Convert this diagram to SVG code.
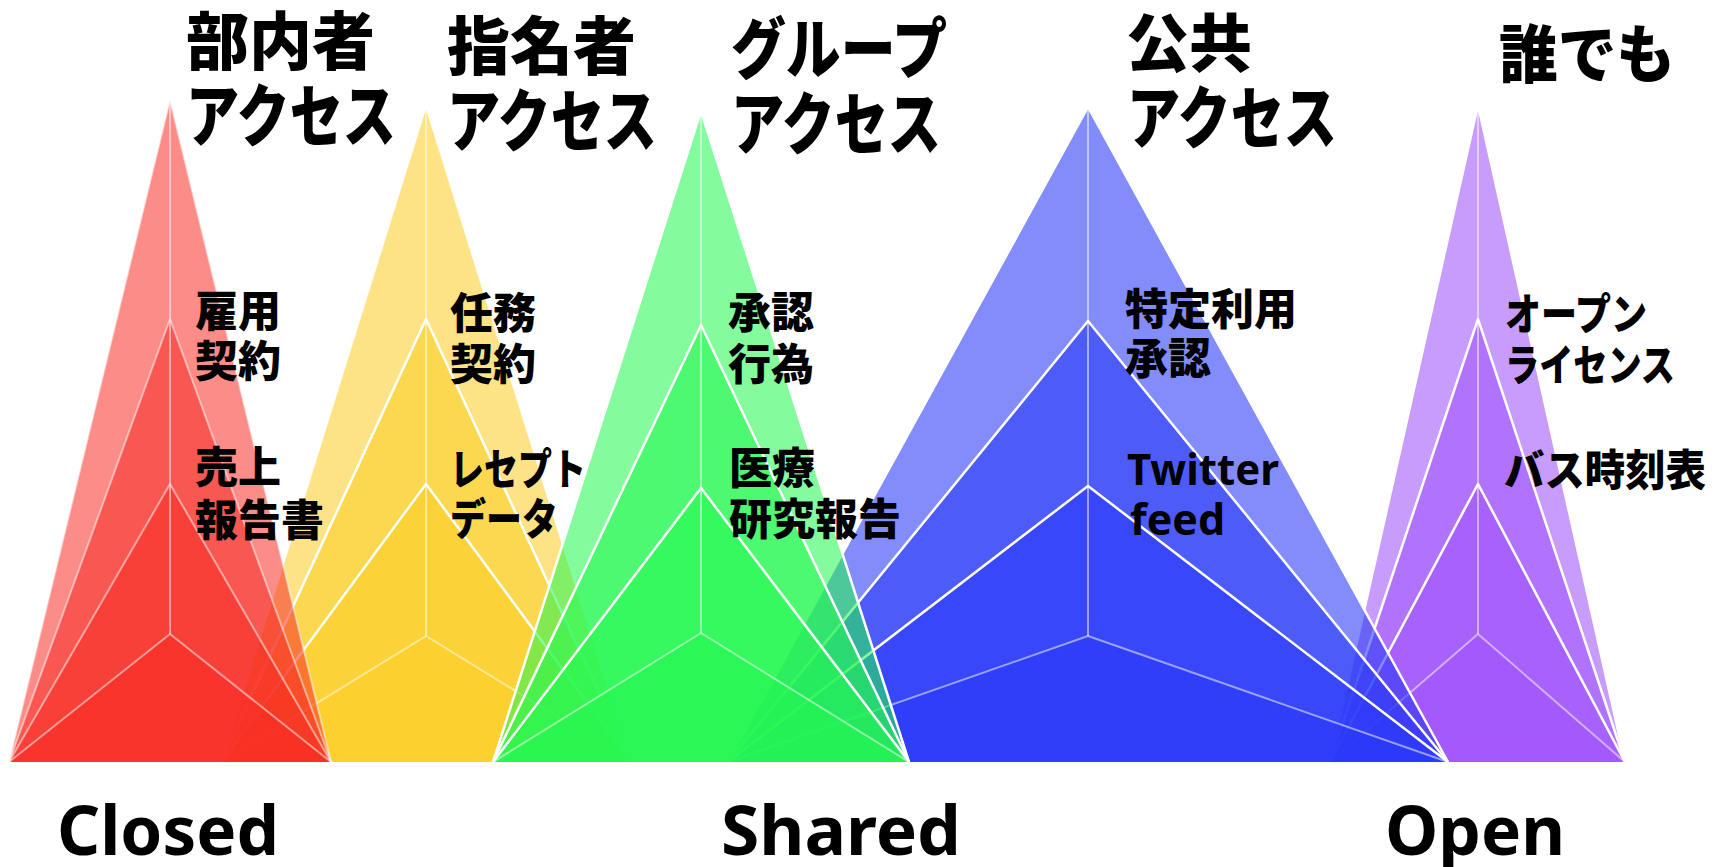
<svg xmlns="http://www.w3.org/2000/svg" width="1723" height="867" viewBox="0 0 1723 867">
  <style>
    .jp { font-family: "Noto Sans CJK JP", "Noto Sans CJK SC", sans-serif; font-weight: 900; fill: #000; }
    .en { font-family: "Noto Sans", "Open Sans", sans-serif; font-weight: 700; fill: #000; }
    .ttl { font-size: 63px; }
    .lbl { font-size: 43px; }
    .big { font-size: 68px; }
    .mid { font-size: 43px; }
    .edge { fill: none; stroke: #fff; stroke-width: 2.5; stroke-linejoin: round; }
    .soft { fill: none; stroke: #fff; stroke-opacity: 0.5; stroke-width: 2; stroke-linejoin: round; }
    .red polygon { fill: #F82A24; fill-opacity: 0.54; }
    .yel polygon { fill: #FCCE28; fill-opacity: 0.57; }
    .grn polygon { fill: #24F850; fill-opacity: 0.56; }
    .blu polygon { fill: #2838F8; fill-opacity: 0.58; }
    .pur polygon { fill: #A055FC; fill-opacity: 0.58; }
  </style>

  <!-- pyramids: four nested tiers sharing one base, back-to-front -->
  <g id="pyramid-named" class="yel">
    <polygon points="426,105 221,762 631,762"/>
    <polygon points="426,319 221,762 631,762"/>
    <polygon points="426,484 221,762 631,762"/>
    <polygon points="426,636 221,762 631,762"/>
    <polyline class="edge" points="221,762 426,105 631,762"/>
    <polyline class="edge" points="221,762 426,319 631,762"/>
    <polyline class="edge" points="221,762 426,484 631,762"/>
    <polyline class="soft" points="221,762 426,636 631,762"/>
    <line class="soft" x1="426" y1="105" x2="426" y2="636"/>
  </g>

  <g id="pyramid-anyone" class="pur">
    <polygon points="1478,105 1330,762 1625,762"/>
    <polygon points="1478,319 1330,762 1625,762"/>
    <polygon points="1478,484 1330,762 1625,762"/>
    <polygon points="1478,634 1330,762 1625,762"/>
    <polyline class="edge" points="1330,762 1478,105 1625,762"/>
    <polyline class="edge" points="1330,762 1478,319 1625,762"/>
    <polyline class="edge" points="1330,762 1478,484 1625,762"/>
    <polyline class="soft" points="1330,762 1478,634 1625,762"/>
    <line class="soft" x1="1478" y1="105" x2="1478" y2="634"/>
  </g>

  <g id="pyramid-internal" class="red">
    <polygon points="170,100 9,762 331,762"/>
    <polygon points="170,319 9,762 331,762"/>
    <polygon points="170,484 9,762 331,762"/>
    <polygon points="170,634 9,762 331,762"/>
    <polyline class="soft" points="9,762 170,100 331,762"/>
    <polyline class="soft" points="9,762 170,319 331,762"/>
    <polyline class="soft" points="9,762 170,484 331,762"/>
    <polyline class="soft" points="9,762 170,634 331,762"/>
    <line class="soft" x1="170" y1="100" x2="170" y2="634"/>
  </g>

  <g id="pyramid-public" class="blu">
    <polygon points="1088,107 728,762 1448,762"/>
    <polygon points="1088,321 728,762 1448,762"/>
    <polygon points="1088,486 728,762 1448,762"/>
    <polygon points="1088,636 728,762 1448,762"/>
    <polyline class="edge" points="728,762 1088,107 1448,762"/>
    <polyline class="edge" points="728,762 1088,321 1448,762"/>
    <polyline class="edge" points="728,762 1088,486 1448,762"/>
    <polyline class="soft" points="728,762 1088,636 1448,762"/>
    <line class="soft" x1="1088" y1="107" x2="1088" y2="636"/>
  </g>

  <g id="pyramid-group" class="grn">
    <polygon points="701,111 493,762 909,762"/>
    <polygon points="701,325 493,762 909,762"/>
    <polygon points="701,488 493,762 909,762"/>
    <polygon points="701,633 493,762 909,762"/>
    <polyline class="edge" points="493,762 701,111 909,762"/>
    <polyline class="edge" points="493,762 701,325 909,762"/>
    <polyline class="edge" points="493,762 701,488 909,762"/>
    <polyline class="soft" points="493,762 701,633 909,762"/>
    <line class="soft" x1="701" y1="111" x2="701" y2="633"/>
  </g>

  <!-- headings and examples for each pyramid -->
  <g id="label-internal">
    <text class="jp ttl" x="186" y="64">部内者</text>
    <text class="jp ttl" x="186" y="141" style="font-size:68px" textLength="210" lengthAdjust="spacingAndGlyphs">アクセス</text>
    <text class="jp lbl" x="195" y="327">雇用</text>
    <text class="jp lbl" x="195" y="377">契約</text>
    <text class="jp lbl" x="195" y="483">売上</text>
    <text class="jp lbl" x="195" y="536">報告書</text>
  </g>

  <g id="label-named">
    <text class="jp ttl" x="447" y="69">指名者</text>
    <text class="jp ttl" x="447" y="146" style="font-size:68px" textLength="210" lengthAdjust="spacingAndGlyphs">アクセス</text>
    <text class="jp lbl" x="450" y="329">任務</text>
    <text class="jp lbl" x="450" y="380">契約</text>
    <text class="jp lbl" x="450" y="485" textLength="136" lengthAdjust="spacingAndGlyphs">レセプト</text>
    <text class="jp lbl" x="450" y="535" textLength="108" lengthAdjust="spacingAndGlyphs">データ</text>
  </g>

  <g id="label-group">
    <text class="jp ttl" x="731" y="73" style="font-size:66px" textLength="216" lengthAdjust="spacingAndGlyphs">グループ</text>
    <text class="jp ttl" x="731" y="149" style="font-size:68px" textLength="210" lengthAdjust="spacingAndGlyphs">アクセス</text>
    <text class="jp lbl" x="728" y="328">承認</text>
    <text class="jp lbl" x="728" y="380">行為</text>
    <text class="jp lbl" x="729" y="484">医療</text>
    <text class="jp lbl" x="729" y="535">研究報告</text>
  </g>

  <g id="label-public">
    <text class="jp ttl" x="1126" y="66">公共</text>
    <text class="jp ttl" x="1127" y="143" style="font-size:68px" textLength="210" lengthAdjust="spacingAndGlyphs">アクセス</text>
    <text class="jp lbl" x="1125" y="325">特定利用</text>
    <text class="jp lbl" x="1125" y="374">承認</text>
    <text class="en mid" x="1127" y="485" textLength="152" lengthAdjust="spacingAndGlyphs">Twitter</text>
    <text class="en mid" x="1130" y="535">feed</text>
  </g>

  <g id="label-anyone">
    <text class="jp ttl" x="1499" y="77" textLength="176" lengthAdjust="spacingAndGlyphs">誰でも</text>
    <text class="jp lbl" x="1505" y="330" textLength="142" lengthAdjust="spacingAndGlyphs">オープン</text>
    <text class="jp lbl" x="1505" y="381" textLength="170" lengthAdjust="spacingAndGlyphs">ライセンス</text>
    <text class="jp lbl" x="1504" y="486" textLength="202" lengthAdjust="spacingAndGlyphs">バス時刻表</text>
  </g>

  <!-- openness scale along the bottom -->
  <g id="scale">
    <text class="en big" x="57" y="855" textLength="222" lengthAdjust="spacingAndGlyphs">Closed</text>
    <text class="en big" x="721" y="855" textLength="240" lengthAdjust="spacingAndGlyphs">Shared</text>
    <text class="en big" x="1385" y="855" textLength="180" lengthAdjust="spacingAndGlyphs">Open</text>
  </g>
</svg>
